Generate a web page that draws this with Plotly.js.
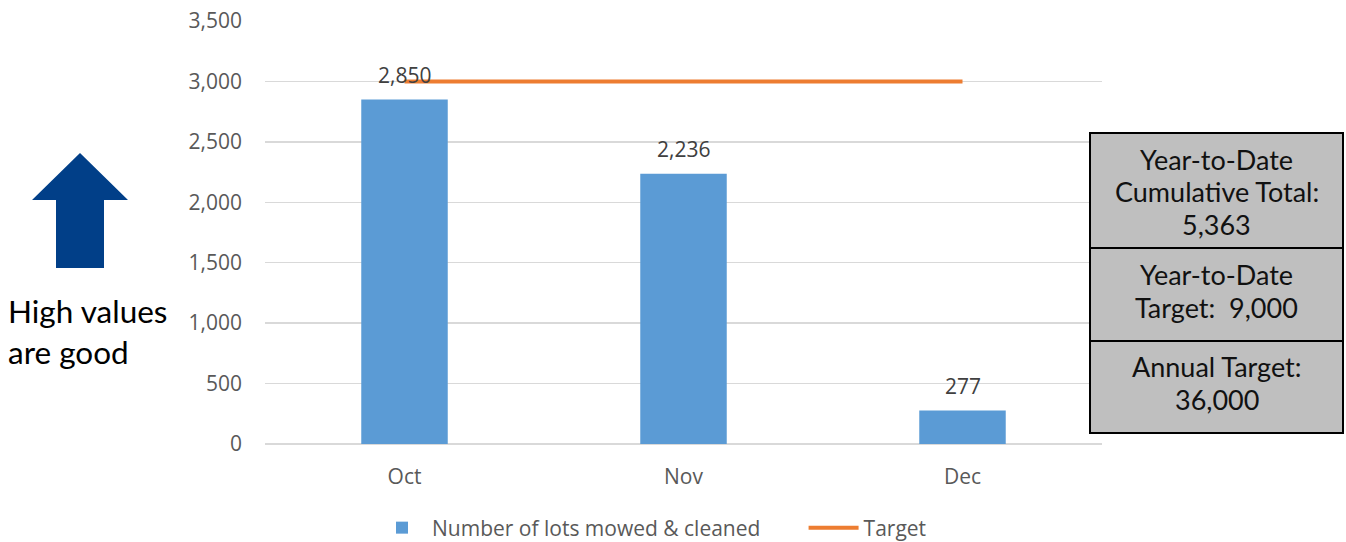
<!DOCTYPE html>
<html>
<head>
<meta charset="utf-8">
<script src="https://cdn.plot.ly/plotly-3.0.1.min.js"></script>
<style>html,body{margin:0;padding:0;background:#fff;}#chart{width:1346px;height:542px;}</style>
</head>
<body>
<div id="chart"></div>
<script>
const months = ["Oct", "Nov", "Dec"];
const lotsMowed = [2850, 2236, 277];
const target = [3000, 3000, 3000];
const yTicks = [0, 500, 1000, 1500, 2000, 2500, 3000, 3500];
const boxTexts = [
  ["Year-to-Date", "Cumulative Total:", "5,363"],
  ["Year-to-Date", "Target:  9,000"],
  ["Annual Target:", "36,000"]
];
const sideNote = "High values<br>are good";

const W = 1346, H = 542;
const L = 265, R = 1102, T = 21, B = 444;
const px = x => (x - L) / (R - L);
const py = y => (B - y) / (B - T);

const boxes = [[133, 248], [248, 341], [341, 433]];
const textMids = [191.5, 291, 383];
const lineGap = 32.5;
const shapes = [];
const annotations = [];
boxes.forEach((b, i) => {
  shapes.push({type: 'rect', xref: 'paper', yref: 'paper',
    x0: px(1090), x1: px(1343), y0: py(b[1]), y1: py(b[0]),
    fillcolor: '#BFBFBF', line: {color: '#000000', width: 2}, layer: 'above'});
  const lines = boxTexts[i];
  lines.forEach((t, k) => {
    const yc = textMids[i] + (k - (lines.length - 1) / 2) * lineGap;
    annotations.push({xref: 'paper', yref: 'paper', x: px(1216.5), y: py(yc),
      xanchor: 'center', yanchor: 'middle', showarrow: false, text: t,
      font: {family: 'Lato', size: 27, color: '#111111'}});
  });
});
const arrowPts = [[80,153],[128,200],[104,200],[104,268],[56,268],[56,200],[32,200]];
shapes.push({type: 'path', xref: 'paper', yref: 'paper',
  path: 'M ' + arrowPts.map(p => px(p[0]) + ',' + py(p[1])).join(' L ') + ' Z',
  fillcolor: '#013F88', line: {width: 0}});
annotations.push({xref: 'paper', yref: 'paper', x: px(6), y: py(331),
  xanchor: 'left', yanchor: 'middle', showarrow: false, text: sideNote, align: 'left',
  font: {family: 'Lato', size: 31.5, color: '#000000'}});

const chartFont = 'Open Sans';
months.forEach((m, i) => {
  annotations.push({xref: 'x', yref: 'y', x: m, y: lotsMowed[i], yanchor: 'middle', yshift: 25,
    showarrow: false, text: lotsMowed[i].toLocaleString('en-US'),
    font: {family: chartFont, size: 21, color: '#404040'}});
});

const traces = [
  {type: 'bar', x: months, y: lotsMowed, name: 'Number of lots mowed & cleaned\u00a0\u00a0\u00a0\u00a0\u00a0\u00a0\u00a0',
   marker: {color: '#5B9BD5'}, width: 0.31, hoverinfo: 'x+y'},
  {type: 'scatter', mode: 'lines', x: months, y: target, name: 'Target',
   line: {color: '#ED7D31', width: 4}}
];

const layout = {
  width: W, height: H,
  margin: {l: L, r: W - R, t: T, b: H - B, autoexpand: false},
  paper_bgcolor: '#ffffff', plot_bgcolor: '#ffffff',
  font: {family: chartFont, size: 21, color: '#595959'},
  showlegend: true,
  legend: {orientation: 'h', x: px(652), xanchor: 'center', y: py(528), yanchor: 'middle',
    font: {family: chartFont, size: 21, color: '#595959'}, itemwidth: 50},
  xaxis: {showgrid: false, showline: false, zeroline: false, ticks: '',
    tickfont: {family: chartFont, size: 21, color: '#595959'}, ticklabelstandoff: 18},
  yaxis: {range: [0, 3500], tickvals: yTicks, ticktext: yTicks.map(v => v.toLocaleString('en-US')),
    showgrid: true, gridcolor: '#D9D9D9', gridwidth: 1.5, zeroline: true, zerolinecolor: '#D9D9D9',
    zerolinewidth: 1.5, showline: false, ticks: '',
    tickfont: {family: chartFont, size: 21, color: '#595959'}, ticklabelstandoff: 22},
  bargap: 0.69,
  shapes: shapes,
  annotations: annotations
};

Plotly.newPlot('chart', traces, layout, {staticPlot: true});
</script>
</body>
</html>
